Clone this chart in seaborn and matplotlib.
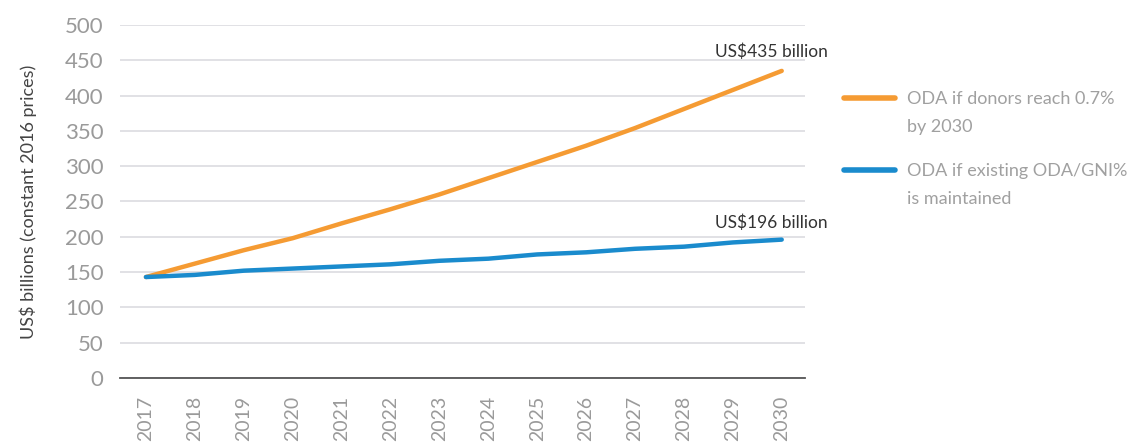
"""
ODA-projektioner fram till 2030
"""

import pandas as pd
import matplotlib.pyplot as plt
import seaborn as sns
from matplotlib.lines import Line2D

years = list(range(2017, 2031))
oda_07 = [143, 162, 181, 198, 219, 239, 260, 283, 306, 329, 354, 381, 408, 435]
oda_existing = [143, 146, 152, 155, 158, 161, 166, 169, 175, 178, 183, 186, 192, 196]
series_names = ["ODA if donors reach 0.7%", "ODA if existing ODA/GNI%"]
series_second_line = ["by 2030", "is maintained"]
end_labels = ["US$435 billion", "US$196 billion"]
y_ticks = list(range(0, 501, 50))

sns.set_style("white")
plt.rcParams["font.family"] = ["Lato", "DejaVu Sans"]

df = pd.DataFrame({
    "year": years * 2,
    "value": oda_07 + oda_existing,
    "series": [series_names[0]] * len(years) + [series_names[1]] * len(years),
})

fig = plt.figure(figsize=(11.28, 4.45), dpi=100)
ax = fig.add_axes([0.1064, 0.1506, 0.607, 0.7932])

sns.lineplot(data=df, x="year", y="value", hue="series",
             palette=["#F59B33", "#1A8BCD"], linewidth=3.2, ax=ax,
             zorder=3)

ax.set_xlim(2016.47, 2030.47)
ax.set_ylim(0, 500)
ax.set_yticks(y_ticks)
ax.set_xticks(years)
ax.set_xticklabels([str(y) for y in years], rotation=90, va="top")
ax.tick_params(axis="y", labelsize=16, colors="#9A9A9A", length=0, pad=12)
ax.tick_params(axis="x", labelsize=14, colors="#9A9A9A", length=0, pad=13)
ax.yaxis.grid(True, color="#DCDCE0", linewidth=1.2)
ax.set_axisbelow(True)
for s in ["top", "right", "left"]:
    ax.spines[s].set_visible(False)
ax.spines["bottom"].set_color("#555555")
ax.spines["bottom"].set_linewidth(1.3)
ax.set_xlabel("")
ax.set_ylabel("US$ billions (constant 2016 prices)", fontsize=13,
              color="#444444", labelpad=20)

ax.annotate(end_labels[0], xy=(years[-1], oda_07[-1]), xytext=(33, 8),
            textcoords="offset points", ha="right", va="bottom",
            fontsize=12.5, color="#333333")
ax.annotate(end_labels[1], xy=(years[-1], oda_existing[-1]), xytext=(33, 6),
            textcoords="offset points", ha="right", va="bottom",
            fontsize=12.5, color="#333333")

# legend: one small legend per series so the handle sits on the first line
handles, labels = ax.get_legend_handles_labels()
ax.get_legend().remove()
blank = Line2D([], [], linestyle="none")
anchors = [(1.058, 0.812), (1.058, 0.608)]
legends = []
for i in range(2):
    leg = ax.legend([handles[i], blank], [labels[i], series_second_line[i]],
                    loc="upper left", bbox_to_anchor=anchors[i],
                    frameon=False, fontsize=13, labelcolor="#A0A0A0",
                    handlelength=2.8, handletextpad=0.65, labelspacing=0.65,
                    borderaxespad=0, borderpad=0)
    for h in leg.get_lines():
        h.set_linewidth(4)
    legends.append(leg)
ax.add_artist(legends[0])

fig.savefig("out.png", dpi=100)
